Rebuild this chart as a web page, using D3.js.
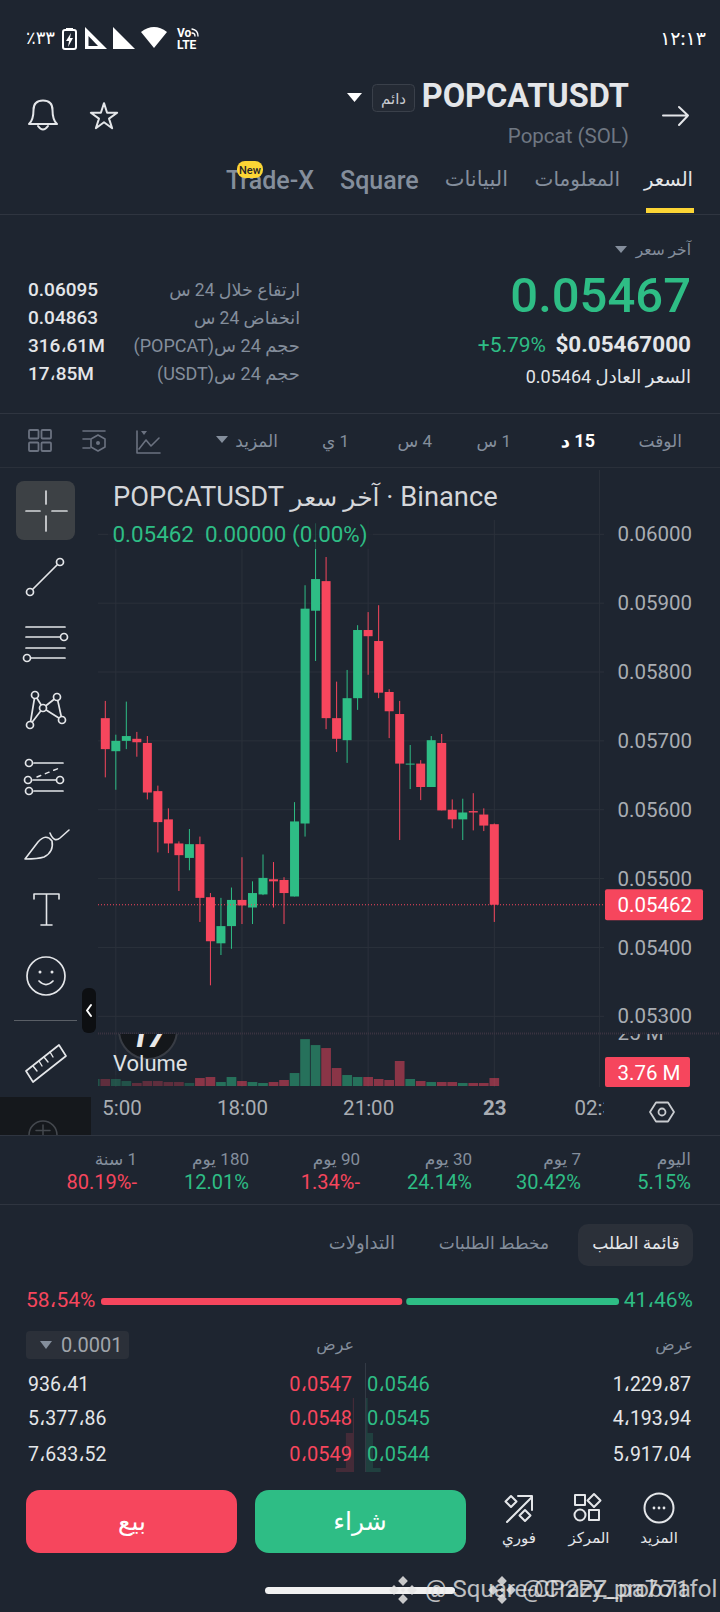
<!DOCTYPE html>
<html>
<head>
<meta charset="utf-8">
<script src="https://cdn.jsdelivr.net/npm/d3@7"></script>
<style>
  html, body { margin: 0; padding: 0; background: #1e2530; }
  svg { display: block; }
  text { font-family: Roboto, "DejaVu Sans", sans-serif; }
</style>
</head>
<body>
<svg id="app" width="720" height="1612"></svg>
<script>
// candles, 15 min each, left to right
const opens  = [.05733,.05685,.05700,.05703,.05697,.05627,.05586,.05551,.05530,.05550,.05473,.05406,.05431,.05469,.05458,.05477,.05499,.05498,.05474,.05580,.05889,.05932,.05733,.05701,.05762,.05861,.05845,.05771,.05739,.05666,.05667,.05633,.05697,.05600,.05586,.05598,.05593,.05579];
const highs  = [.05758,.05709,.05757,.05713,.05707,.05635,.05602,.05554,.05572,.05561,.05479,.05472,.05487,.05531,.05496,.05535,.05524,.05502,.05611,.05926,.06016,.05967,.05786,.05803,.05868,.05887,.05897,.05775,.05758,.05694,.05672,.05707,.05710,.05615,.05616,.05624,.05602,.05580];
const lows   = [.05647,.05629,.05688,.05677,.05615,.05538,.05537,.05482,.05512,.05437,.05345,.05389,.05398,.05434,.05434,.05476,.05458,.05434,.05474,.05561,.05816,.05717,.05684,.05668,.05745,.05796,.05762,.05704,.05556,.05630,.05614,.05633,.05599,.05573,.05556,.05570,.05569,.05437];
const closes = [.05688,.05700,.05707,.05698,.05625,.05582,.05551,.05534,.05550,.05472,.05409,.05431,.05469,.05461,.05479,.05501,.05496,.05479,.05583,.05892,.05935,.05733,.05703,.05762,.05861,.05852,.05770,.05743,.05667,.05667,.05633,.05701,.05599,.05586,.05596,.05596,.05577,.05462];
const volumes = [3.3,3.3,2.35,1.41,2.35,2.35,1.88,1.88,1.41,3.76,4.24,1.88,4.24,2.35,1.88,1.41,1.88,2.83,6.12,22.1,19.3,17.9,8.48,5.18,4.24,4.24,3.3,2.83,11.8,3.3,2.35,1.88,1.88,1.88,1.41,1.41,1.41,3.76];
const prevVolume = 3.3;

const priceTicks = [.06,.059,.058,.057,.056,.055,.054,.053];
const timeTicks = [1,13,25,37,47];
const timeLabels = ['15:00','18:00','21:00','23','02:30'];
const lastPrice = 0.05462;
const lastVolume = 3.76;

// 24h stats
const statLabels = ['ارتفاع خلال 24 س','انخفاض 24 س','حجم 24 س(POPCAT)','حجم 24 س(USDT)'];
const statValues = ['0.06095','0.04863','316،61M','17،85M'];

// performance row
const perfLabels = ['اليوم','7 يوم','30 يوم','90 يوم','180 يوم','1 سنة'];
const perfValues = ['5.15%','30.42%','24.14%','1.34%-','12.01%','80.19%-'];

// timeframes row
const frameLabels = ['الوقت','15 د','1 س','4 س','1 ي','المزيد'];

// order book
const bidShare = 58.54;
const askQty = [936.41,5377.86,7633.52];
const askPrice = ['0،0547','0،0548','0،0549'];
const askQtyText = ['936،41','5،377،86','7،633،52'];
const bidQty = [1229.87,4193.94,5917.04];
const bidPrice = ['0،0546','0،0545','0،0544'];
const bidQtyText = ['1،229،87','4،193،94','5،917،04'];

const bg = '#1e2530', green = '#2ebd85', red = '#f6465d', grid = '#2b313b', line = '#2f3540';
const gray = '#848e9c', axisGray = '#a9adb3', soft = '#e4e6e9';

const svg = d3.select('#app');

svg.append('rect').attr('width', 720).attr('height', 1612).attr('fill', bg);

// small helpers
function label(x, y, s, size, fill, opts = {}) {
    return (opts.parent || svg).append('text')
        .attr('x', x).attr('y', y)
        .attr('font-size', size)
        .attr('fill', fill)
        .attr('font-weight', opts.weight || 400)
        .attr('text-anchor', opts.anchor || 'start')
        .text(s);
}
// right aligned, right-to-left run
function arabic(x, y, s, size, fill, opts = {}) {
    return label(x, y, s, size, fill, opts).attr('direction', 'rtl').attr('text-anchor', 'start');
}
function hline(y, x0 = 0, x1 = 720, color = line) {
    svg.append('line').attr('x1', x0).attr('x2', x1).attr('y1', y + .5).attr('y2', y + .5).attr('stroke', color);
}
function icon(d, color = soft, w = 1.7, parent = svg) {
    return parent.append('path').attr('d', d).attr('fill', 'none').attr('stroke', color)
        .attr('stroke-width', w).attr('stroke-linecap', 'round').attr('stroke-linejoin', 'round');
}
function solid(d, color = '#fff') {
    return svg.append('path').attr('d', d).attr('fill', color);
}
function downTri(x0, x1, y0, y1, color) {
    solid(`M${x0} ${y0}H${x1}L${(x0 + x1) / 2} ${y1}Z`, color);
}
function ring(cx, cy, r, color = soft, w = 1.7) {
    svg.append('circle').attr('cx', cx).attr('cy', cy).attr('r', r)
        .attr('fill', 'none').attr('stroke', color).attr('stroke-width', w);
}

// status bar
arabic(55, 44, '٣٣٪', 18, '#fff', {weight: 500});
label(706, 45, '١٢:١٣', 19, '#fff', {anchor: 'end', weight: 500});
svg.append('rect').attr('x', 63).attr('y', 30).attr('width', 13).attr('height', 19).attr('rx', 2)
    .attr('fill', 'none').attr('stroke', '#fff').attr('stroke-width', 2);
solid('M66 28h7v2h-7z');
solid('M71 33L66 41H69L68 47L73 38H70Z');
solid('M85 27L107 49H85Z');
solid('M88.5 36V46H98Z', bg);
solid('M113 27L135 49H113Z');
solid('M141 32Q154 22 167 32L154 48Z');
label(177, 37, 'Vo', 12, '#fff', {weight: 700});
label(177, 49, 'LTE', 12, '#fff', {weight: 700});
icon('M192 29Q198 30 198 36M192 33Q195 33 195 36', '#fff', 1.3);

// header
icon('M29 124Q33.5 120 33.5 110Q33.5 100.500 43 100.500Q52.500 100.500 52.500 110Q52.500 120 57 124Z', soft, 2);
icon('M38 126Q43 133 48 126', soft, 2);
svg.append('path').attr('d', d3.symbol().type(d3.symbolStar).size(215))
    .attr('transform', 'translate(104,117)')
    .attr('fill', 'none').attr('stroke', soft).attr('stroke-width', 2).attr('stroke-linejoin', 'round');
icon('M663 115.500H688M679 107L688 115.500L679 125', soft, 2);

label(629, 107, 'POPCATUSDT', 32.500, soft, {anchor: 'end', weight: 700});
svg.append('rect').attr('x', 372.500).attr('y', 84.500).attr('width', 42).attr('height', 27).attr('rx', 4)
    .attr('fill', '#242a34').attr('stroke', '#3a404a');
label(393.500, 104, 'دائم', 15, '#c8cbd0', {anchor: 'middle'});
downTri(347, 362, 93, 102, '#fff');
label(629, 143, 'Popcat (SOL)', 20.500, '#6f7782', {anchor: 'end'});

// tabs
arabic(693, 186, 'السعر', 19.500, soft);
arabic(620, 186, 'المعلومات', 20, gray);
arabic(508, 186, 'البيانات', 21, gray);
label(340, 189, 'Square', 25, gray, {weight: 500});
label(226, 189, 'Trade-X', 25, gray, {weight: 500});
svg.append('rect').attr('x', 237).attr('y', 161).attr('width', 26).attr('height', 17).attr('rx', 8).attr('fill', '#fcd535');
label(250, 174, 'New', 11, '#1e2329', {anchor: 'middle', weight: 500});
svg.append('rect').attr('x', 646).attr('y', 208).attr('width', 48).attr('height', 5).attr('fill', '#fcd535');
hline(214);

// price block
arabic(691, 255, 'آخر سعر', 15.500, gray);
downTri(615, 627, 246, 253, gray);
label(691, 312, '0.05467', 49, green, {anchor: 'end', weight: 500});
label(691, 352, '$0.05467000', 22.500, soft, {anchor: 'end', weight: 700});
label(546, 352, '+5.79%', 21, green, {anchor: 'end'});
arabic(691, 383, 'السعر العادل 0.05464', 18, soft);

statValues.forEach((v, i) => {
    const y = 296 + i * 28;
    label(28, y, v, 19, soft, {weight: 500});
    arabic(300, y, statLabels[i], i < 2 ? 17.500 : 18, gray);
});
hline(413);

// timeframes
const frameRight = [682, 595, 511, 432, 349, 278];
frameLabels.forEach((s, i) => {
    arabic(frameRight[i], 447, s, i === 1 ? 18 : 17, i === 1 ? '#fff' : gray, {weight: i === 1 ? 700 : 400});
});
downTri(216, 228, 436, 443, gray);
[[29,430],[41.500,430],[29,442.500],[41.500,442.500]].forEach(p => {
    svg.append('rect').attr('x', p[0]).attr('y', p[1]).attr('width', 9.500).attr('height', 8.500).attr('rx', 1)
        .attr('fill', 'none').attr('stroke', '#6b7280').attr('stroke-width', 1.8);
});
icon('M83 431H105M83 439H90M83 448H90', '#6b7280', 1.6);
icon('M98 435L105 439V447L98 451L91 447V439Z', '#6b7280', 1.6);
svg.append('circle').attr('cx', 98).attr('cy', 443).attr('r', 2).attr('fill', '#6b7280');
icon('M137 431V453H160M139 449L146 440L151 446L159 438', '#6b7280', 1.6);
downTri(141, 147, 431, 435, '#6b7280');
hline(467, 0, 720, '#2a303a');

// chart scales
const x = d3.scaleLinear().domain([0, 37]).range([105.3, 494.3]);
const yPrice = d3.scaleLinear().domain([.053, .06]).range([1016.3, 534.3]);
const yVol = d3.scaleLinear().domain([0, 25]).range([1086, 1033]);
const bodyW = 9, volW = 9.700;

const defs = svg.append('defs');
defs.append('clipPath').attr('id', 'volClip').append('rect').attr('x', 98).attr('y', 1034).attr('width', 622).attr('height', 60);
defs.append('clipPath').attr('id', 'timeClip').append('rect').attr('x', 100).attr('y', 1090).attr('width', 504).attr('height', 40);

// grid
svg.append('g').selectAll('line').data(priceTicks).join('line')
    .attr('x1', 98).attr('x2', 604)
    .attr('y1', d => yPrice(d)).attr('y2', d => yPrice(d))
    .attr('stroke', grid);
svg.append('g').selectAll('line').data(timeTicks).join('line')
    .attr('x1', d => x(d)).attr('x2', d => x(d))
    .attr('y1', 470).attr('y2', 1087)
    .attr('stroke', grid);
svg.append('line').attr('x1', 98).attr('x2', 720).attr('y1', 1033.500).attr('y2', 1033.500)
    .attr('stroke', '#3a3340').attr('stroke-width', 2).attr('stroke-dasharray', '1 1');

// volume
const volColor = i => closes[i] >= opens[i] ? green : red;
const volG = svg.append('g').attr('clip-path', 'url(#volClip)').attr('fill-opacity', .5);
volG.append('rect')
    .attr('x', x(-1) - volW / 2).attr('width', volW)
    .attr('y', yVol(prevVolume)).attr('height', yVol(0) - yVol(prevVolume))
    .attr('fill', green);
volG.selectAll('rect.vol').data(volumes).join('rect')
    .attr('class', 'vol')
    .attr('x', (d, i) => x(i) - volW / 2).attr('width', volW)
    .attr('y', d => yVol(d)).attr('height', d => yVol(0) - yVol(d))
    .attr('fill', (d, i) => volColor(i));

// logo + dim patch behind the volume label
const logoG = svg.append('g').attr('clip-path', 'url(#volClip)');
logoG.append('circle').attr('cx', 148).attr('cy', 1030).attr('r', 29)
    .attr('fill', '#14171b').attr('stroke', '#383c44').attr('stroke-width', 2);
logoG.append('text').attr('x', 148).attr('y', 1047).attr('text-anchor', 'middle')
    .attr('font-size', 30).attr('font-weight', 900).attr('font-style', 'italic').attr('fill', '#e8e8e8').text('17');
svg.append('rect').attr('x', 98).attr('y', 1075).attr('width', 97).attr('height', 11).attr('fill', bg).attr('opacity', .4);

// candles
const idx = d3.range(opens.length);
const isUp = i => closes[i] >= opens[i];
svg.append('g').selectAll('line').data(idx).join('line')
    .attr('x1', i => x(i)).attr('x2', i => x(i))
    .attr('y1', i => yPrice(highs[i])).attr('y2', i => yPrice(lows[i]))
    .attr('stroke', i => isUp(i) ? green : red);
svg.append('g').selectAll('rect').data(idx).join('rect')
    .attr('x', i => x(i) - bodyW / 2).attr('width', bodyW)
    .attr('y', i => yPrice(Math.max(opens[i], closes[i])))
    .attr('height', i => Math.max(1, Math.abs(yPrice(opens[i]) - yPrice(closes[i]))))
    .attr('fill', i => isUp(i) ? green : red);

// last price line
svg.append('line').attr('x1', 98).attr('x2', 605)
    .attr('y1', yPrice(lastPrice)).attr('y2', yPrice(lastPrice))
    .attr('stroke', red).attr('stroke-dasharray', '1 2');

// chart title and legend sit on top of the grid
svg.append('rect').attr('x', 98).attr('y', 470).attr('width', 410).attr('height', 50).attr('fill', bg);
svg.append('rect').attr('x', 108).attr('y', 520).attr('width', 265).attr('height', 29).attr('fill', bg).attr('opacity', .7);
const title = label(113, 506, 'POPCATUSDT ', 27.300, '#d5d7da');
title.append('tspan').attr('font-size', 25).text('آخر سعر');
title.append('tspan').text(' · Binance');
label(112.500, 542, '0.05462  0.00000 (0.00%)', 22.400, green).style('white-space', 'pre');

// axes
const priceAxis = d3.axisRight(yPrice).tickValues(priceTicks).tickFormat(d3.format('.5f')).tickSize(0).tickPadding(0);
const gPrice = svg.append('g').attr('transform', 'translate(617.500,0)').call(priceAxis);
gPrice.select('.domain').remove();
gPrice.selectAll('text').attr('font-size', 20.500).attr('font-family', 'Roboto').attr('fill', axisGray);

const volAxis = d3.axisRight(yVol).tickValues([25]).tickFormat(d => d + ' M').tickSize(0).tickPadding(0);
const gVol = svg.append('g').attr('clip-path', 'url(#volClip)').append('g').attr('transform', 'translate(617.500,0)').call(volAxis);
gVol.select('.domain').remove();
gVol.selectAll('text').attr('font-size', 20.500).attr('font-family', 'Roboto').attr('fill', axisGray);

const timeAxis = d3.axisBottom(x).tickValues(timeTicks).tickFormat((d, i) => timeLabels[i]).tickSize(0).tickPadding(0);
const gTime = svg.append('g').attr('clip-path', 'url(#timeClip)').append('g').attr('transform', 'translate(0,1100)').call(timeAxis);
gTime.select('.domain').remove();
gTime.selectAll('text').attr('font-size', 20.500).attr('font-family', 'Roboto').attr('fill', axisGray)
    .attr('font-weight', (d, i) => timeLabels[i] === '23' ? 700 : 400);

// value tags
svg.append('rect').attr('x', 605).attr('y', yPrice(lastPrice) - 15.500).attr('width', 98).attr('height', 31).attr('rx', 2).attr('fill', red);
label(617.500, yPrice(lastPrice) + 7.500, d3.format('.5f')(lastPrice), 20.500, '#fff');
svg.append('rect').attr('x', 605).attr('y', 1057).attr('width', 85).attr('height', 30).attr('rx', 2).attr('fill', red);
label(617.500, 1079.500, lastVolume + ' M', 20.500, '#fff');
label(113, 1071, 'Volume', 22, '#dfe1e4');
icon('M650 1112L656 1102.500H668L674 1112L668 1121.500H656Z', '#c9ccd0', 1.8);
ring(662, 1112, 3.500, '#c9ccd0', 1.8);

// drawing tools
svg.append('rect').attr('x', 16).attr('y', 481).attr('width', 59).attr('height', 59).attr('rx', 8).attr('fill', '#3d4145');
icon('M26 511H40M52 511H67M46 491V504M46 516V531', '#d5d7da', 1.7);

icon('M33 589L57 565');
ring(30, 592, 3.500); ring(60, 562, 3.500);

icon('M26 627H65M26 637H60M26 648H65M31 658H65');
ring(64, 637, 3.500); ring(27, 658, 3.500);

icon('M30 725L35 695L43 708L57 697L62 720L43 708L30 725');
[[35,695],[57,697],[43,708],[30,725],[62,720]].forEach(p => {
    svg.append('circle').attr('cx', p[0]).attr('cy', p[1]).attr('r', 3.500).attr('fill', bg).attr('stroke', soft).attr('stroke-width', 1.7);
});

icon('M34 763H63M33 780H56M34 791H63');
icon('M37 777L62 767', soft, 1.5).attr('stroke-dasharray', '4 5');
ring(29, 763, 3.500); ring(28, 780, 3.500); ring(60, 780, 3.500); ring(29, 791, 3.500);

icon('M25 859L38 842Q46 833 52 841Q54 852 44 857Q38 859 25 859Z', soft, 1.6);
icon('M50 833Q54 843 60 838L69 830', soft, 1.6);

icon('M34 899V894H59V899M46.500 894V925M41 925H52', soft, 1.6);

ring(46, 976, 19);
svg.append('circle').attr('cx', 40).attr('cy', 972).attr('r', 1.500).attr('fill', soft);
svg.append('circle').attr('cx', 52).attr('cy', 972).attr('r', 1.500).attr('fill', soft);
icon('M39 981Q46 988 53 981');

hline(1020, 14, 77, '#5a5f66');

svg.append('rect').attr('x', 82).attr('y', 988).attr('width', 14).attr('height', 45).attr('rx', 6).attr('fill', '#0d0f12');
icon('M91 1005L87 1010.500L91 1016', '#fff', 2);

icon('M26 1071L59 1045L66 1056L33 1082Z');
icon('M33 1066L37 1071M39 1061L42 1066M44 1057L48 1062M50 1052L53 1057', soft, 1.4);

svg.append('rect').attr('x', 0).attr('y', 1097).attr('width', 91).attr('height', 38).attr('fill', '#15181c');
defs.append('clipPath').attr('id', 'adClip').append('rect').attr('x', 0).attr('y', 1097).attr('width', 91).attr('height', 38);
const adG = svg.append('g').attr('clip-path', 'url(#adClip)');
icon('M29 1135A14 14 0 0 1 57 1135M43 1125V1135M36 1130.500H50', '#44484e', 1.5, adG);
hline(1135);

// performance row
const perfRight = [691, 581, 472, 360, 249, 137];
perfLabels.forEach((s, i) => {
    arabic(perfRight[i], 1165, s, 17, gray);
    const v = perfValues[i];
    label(perfRight[i], 1189, v, 20, v.endsWith('-') ? red : green, {anchor: 'end'});
});
hline(1204);

// book tabs
svg.append('rect').attr('x', 578).attr('y', 1224).attr('width', 115).attr('height', 42).attr('rx', 10).attr('fill', '#2b3039');
label(636, 1249, 'قائمة الطلب', 17, soft, {anchor: 'middle'});
arabic(549, 1249, 'مخطط الطلبات', 17, gray);
arabic(395, 1249, 'التداولات', 18, gray);

// buy / sell pressure bar
const xBar = d3.scaleLinear().domain([0, 100]).range([101, 619]);
svg.append('rect').attr('x', xBar(0)).attr('y', 1298).attr('width', xBar(bidShare) - xBar(0) - 2).attr('height', 7).attr('rx', 3).attr('fill', red);
svg.append('rect').attr('x', xBar(bidShare) + 2).attr('y', 1298).attr('width', xBar(100) - xBar(bidShare) - 2).attr('height', 7).attr('rx', 3).attr('fill', green);
label(26, 1307, '58،54%', 21, red);
label(693, 1307, '41،46%', 21, green, {anchor: 'end'});

// book header
svg.append('rect').attr('x', 26).attr('y', 1331).attr('width', 103).attr('height', 28).attr('rx', 4).attr('fill', '#2b3039');
downTri(40, 52, 1341, 1349, gray);
label(61, 1352, '0.0001', 20, '#a0a5ab');
arabic(354, 1350, 'عرض', 16, gray);
arabic(693, 1350, 'عرض', 16, gray);

// cumulative depth behind the rows
const depth = d3.scaleLinear().domain([0, d3.sum(askQty)]).range([0, 18]);
const rowTop = d3.scaleBand().domain([0, 1, 2]).range([1398, 1503]);
svg.append('line').attr('x1', 365.500).attr('x2', 365.500).attr('y1', 1363).attr('y2', 1472).attr('stroke', '#333a45');
svg.append('g').selectAll('rect').data([0, 1, 2]).join('rect')
    .attr('x', i => 354 - depth(d3.sum(askQty.slice(0, i + 1)))).attr('width', i => depth(d3.sum(askQty.slice(0, i + 1))))
    .attr('y', i => rowTop(i)).attr('height', i => Math.min(rowTop.bandwidth(), 1472 - rowTop(i)))
    .attr('fill', red).attr('opacity', .18);
svg.append('g').selectAll('rect').data([0, 1, 2]).join('rect')
    .attr('x', 366).attr('width', i => depth(d3.sum(bidQty.slice(0, i + 1))))
    .attr('y', i => rowTop(i)).attr('height', i => Math.min(rowTop.bandwidth(), 1472 - rowTop(i)))
    .attr('fill', green).attr('opacity', .18);

// book rows
const rowY = [1391, 1425, 1461];
rowY.forEach((y, i) => {
    label(28, y, askQtyText[i], 19.500, soft);
    label(352, y, askPrice[i], 20, red, {anchor: 'end'});
    label(367, y, bidPrice[i], 20, green);
    label(691, y, bidQtyText[i], 19.500, soft, {anchor: 'end'});
});

// buttons
svg.append('rect').attr('x', 26).attr('y', 1490).attr('width', 211).attr('height', 63).attr('rx', 14).attr('fill', red);
svg.append('rect').attr('x', 255).attr('y', 1490).attr('width', 211).attr('height', 63).attr('rx', 14).attr('fill', green);
label(132, 1530, 'بيع', 25, '#fff', {anchor: 'middle'});
label(360, 1530, 'شراء', 25, '#fff', {anchor: 'middle'});

// bottom actions
icon('M507 1522L532 1497M518 1496H532V1510', soft, 2);
icon('M511 1496L516.500 1501.500L511 1507L505.500 1501.500Z', soft, 2);
icon('M525 1510L530.500 1515.500L525 1521L519.500 1515.500Z', soft, 2);
label(519, 1543, 'فوري', 15, soft, {anchor: 'middle'});

icon('M575 1495H585V1505H575ZM589 1510H599V1520H589Z', soft, 2);
icon('M594 1494L600.500 1500.500L594 1507L587.500 1500.500Z', soft, 2);
ring(580, 1515, 5.500, soft, 2);
label(589, 1543, 'المركز', 15, soft, {anchor: 'middle'});

ring(659, 1508, 14.500, soft, 2);
[654, 659, 664].forEach(cx => svg.append('circle').attr('cx', cx).attr('cy', 1508).attr('r', 1.400).attr('fill', soft));
label(659, 1543, 'المزيد', 15, soft, {anchor: 'middle'});

// home bar and the two repost watermarks
svg.append('rect').attr('x', 265).attr('y', 1587).attr('width', 190).attr('height', 7).attr('rx', 3.500).attr('fill', '#f1f1f1');
[403, 502].forEach(cx => {
    const g = svg.append('g').attr('transform', `translate(${cx},1590)`).attr('fill', '#e6e6e6').attr('opacity', .85);
    [[0,-9],[-9,0],[9,0],[0,9],[0,0]].forEach(p => {
        g.append('path').attr('d', d3.symbol().type(d3.symbolSquare).size(p[0] || p[1] ? 48 : 12)).attr('transform', `translate(${p[0]},${p[1]}) rotate(45)`);
    });
});
label(425, 1597, '@ Square-CP2PZ_pa7oia', 24, '#e6e6e6').attr('opacity', .8);
label(522, 1597, '@Crazy_prob71fol', 24, '#e6e6e6').attr('opacity', .8);
</script>
</body>
</html>
